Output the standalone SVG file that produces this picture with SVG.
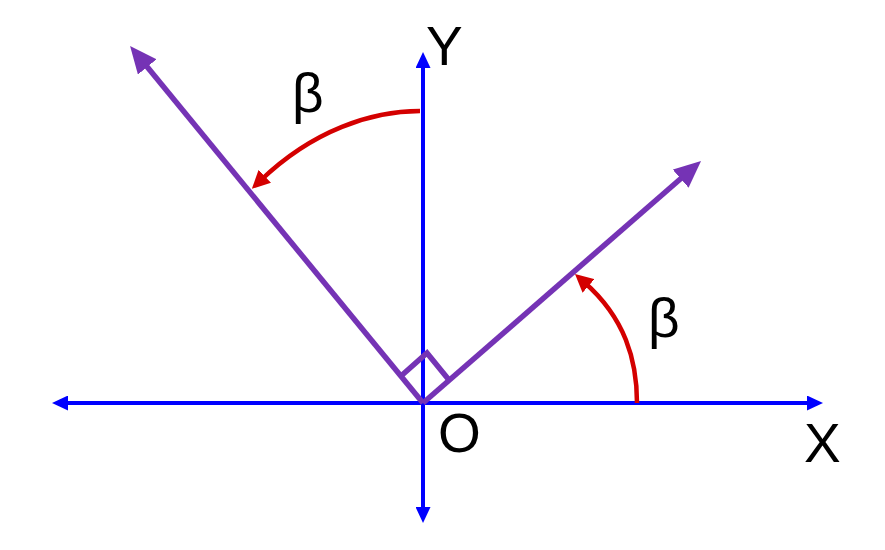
<svg xmlns="http://www.w3.org/2000/svg" width="885" height="550" viewBox="0 0 885 550">
<style>
.axis{stroke:#0000FF;stroke-width:4;fill:none}
.ray{stroke:#7533B5;stroke-width:5.5;fill:none}
.arc{stroke:#D40000;stroke-width:4.5;fill:none}
.lbl{font-family:"Liberation Sans",Arial,sans-serif;font-size:55px;fill:#000}
</style>
<defs>
<marker id="mb" viewBox="0 0 16 15" refX="6" refY="7.5" markerWidth="16" markerHeight="15" markerUnits="userSpaceOnUse" orient="auto-start-reverse"><path d="M0,0 L16,7.5 L0,15 Z" fill="#0000FF"/></marker>
<marker id="mp" viewBox="0 0 27 24" refX="6" refY="12" markerWidth="27" markerHeight="24" markerUnits="userSpaceOnUse" orient="auto"><path d="M0,0 L27,12 L0,24 Z" fill="#7533B5"/></marker>
<marker id="mr" viewBox="0 0 18 18" refX="6" refY="9" markerWidth="18" markerHeight="18" markerUnits="userSpaceOnUse" orient="auto"><path d="M0,0 L18,9 L0,18 Z" fill="#D40000"/></marker>
</defs>
<g id="axes">
<line class="axis" x1="62" y1="403" x2="813" y2="403" marker-start="url(#mb)" marker-end="url(#mb)"/>
<line class="axis" x1="423" y1="513" x2="423" y2="62" marker-start="url(#mb)" marker-end="url(#mb)"/>
</g>
<g id="rays">
<line class="ray" x1="423" y1="403" x2="143.4" y2="62.3" marker-end="url(#mp)"/>
<line class="ray" x1="423" y1="403" x2="685.2" y2="174.8" marker-end="url(#mp)"/>
<polyline class="ray" stroke-width="4" points="401,376 427,353 449,380"/>
</g>
<g id="angles">
<path class="arc" d="M420,111 C372,111 313,130 260.5,180.5" marker-end="url(#mr)"/>
<path class="arc" d="M637,403 C637,360 625,318 584,282" marker-end="url(#mr)"/>
</g>
<g id="labels">
<text class="lbl" x="426" y="65">Y</text>
<text class="lbl" x="804" y="462">X</text>
<text class="lbl" x="438" y="452">O</text>
<text class="lbl" x="292" y="112">β</text>
<text class="lbl" x="648" y="337">β</text>
</g>
</svg>
